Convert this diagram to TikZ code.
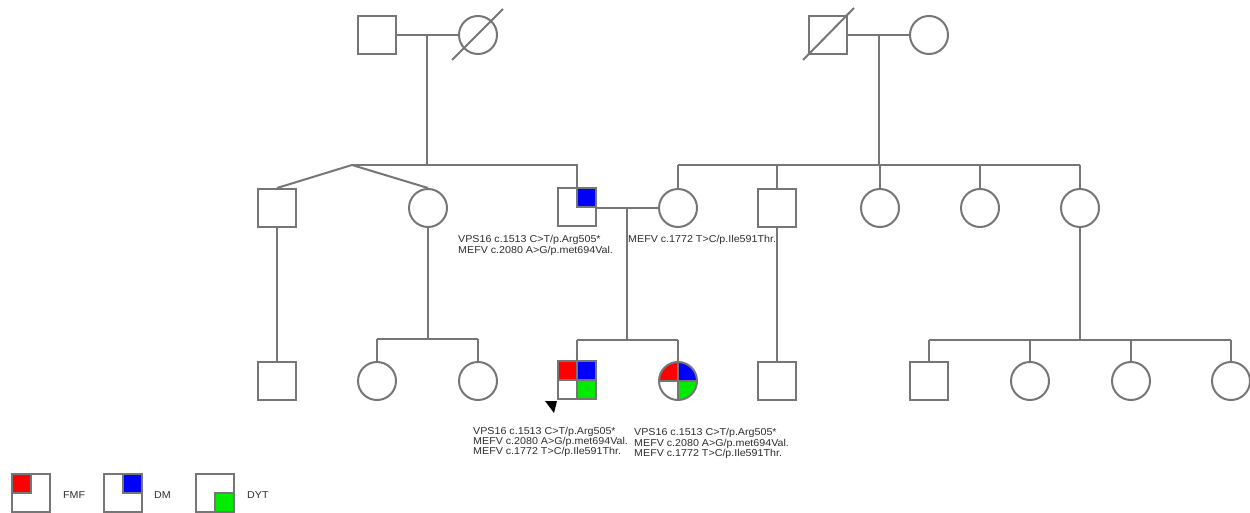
\documentclass[tikz,border=0pt]{standalone}
\usepackage{fontspec}
\setmainfont{Liberation Sans}[FakeStretch=1.07]
\usetikzlibrary{calc}
\definecolor{pedgray}{RGB}{118,118,118}
\definecolor{txtgray}{RGB}{45,45,45}
\definecolor{fmfred}{RGB}{255,0,0}
\definecolor{dmblue}{RGB}{0,0,255}
\definecolor{dytgreen}{RGB}{0,235,0}
\begin{document}
\begin{tikzpicture}[x=1pt,y=1pt,
  male/.style={draw=pedgray, line width=2pt, rectangle, minimum size=38pt, inner sep=0pt},
  female/.style={draw=pedgray, line width=2pt, circle, minimum size=38pt, inner sep=0pt},
  link/.style={draw=pedgray, line width=2pt},
  slash/.style={draw=pedgray, line width=2pt},
  lbl/.style={text=txtgray, align=left, inner sep=0pt, anchor=north west},
  legtxt/.style={text=txtgray, inner sep=0pt, anchor=base west, font=\fontsize{10}{11}\selectfont},
  qfmf/.style={fill=fmfred, draw=pedgray, line width=2pt},
  qdm/.style={fill=dmblue, draw=pedgray, line width=2pt},
  qdyt/.style={fill=dytgreen, draw=pedgray, line width=2pt},
  pTL/.style={path picture={\path[qfmf] (path picture bounding box.center) rectangle (path picture bounding box.north west);}},
  pTR/.style={path picture={\path[qdm] (path picture bounding box.center) rectangle (path picture bounding box.north east);}},
  pBR/.style={path picture={\path[qdyt] (path picture bounding box.center) rectangle (path picture bounding box.south east);}},
  pall/.style={path picture={
    \fill[fmfred] (path picture bounding box.center) rectangle (path picture bounding box.north west);
    \fill[dmblue] (path picture bounding box.center) rectangle (path picture bounding box.north east);
    \fill[dytgreen] (path picture bounding box.center) rectangle (path picture bounding box.south east);
    \draw[pedgray, line width=2pt] (path picture bounding box.north) -- (path picture bounding box.south)
      (path picture bounding box.west) -- (path picture bounding box.east);}}
]
\useasboundingbox (0,0) rectangle (1250,-513);

% Generation I
\node[male]   (I1) at (377,-35) {};
\node[female] (I2) at (478,-35) {};
\node[male]   (I3) at (828,-35) {};
\node[female] (I4) at (929,-35) {};
\draw[slash] ($(I2)+(-26,-25)$) -- ($(I2)+(25,26)$);
\draw[slash] ($(I3)+(-25,-25)$) -- ($(I3)+(26,27)$);

% Generation II
\node[male]       (II1) at (277,-208) {};
\node[female]     (II2) at (428,-208) {};
\node[male, pTR]  (II3) at (577,-207) {};
\node[female]     (II4) at (678,-208) {};
\node[male]       (II5) at (777,-208) {};
\node[female]     (II6) at (880,-208) {};
\node[female]     (II7) at (980,-208) {};
\node[female]     (II8) at (1080,-208) {};

% Generation III
\node[male]         (III1) at (277,-381) {};
\node[female]       (III2) at (377,-381) {};
\node[female]       (III3) at (478,-381) {};
\node[male, pall]   (III4) at (577,-380) {};
\node[female, pall] (III5) at (678,-381) {};
\node[male]         (III6) at (777,-381) {};
\node[male]         (III7) at (929,-381) {};
\node[female]       (III8) at (1030,-381) {};
\node[female]       (III9) at (1131,-381) {};
\node[female]       (III10) at (1231,-381) {};

% helper coordinates
\coordinate (m1) at (427,-35);
\coordinate (s1) at (427,-165);
\coordinate (tw) at (352,-165);
\coordinate (m2) at (879,-35);
\coordinate (s2) at (879,-165);
\coordinate (m3) at (627,-208);
\coordinate (s3) at (627,-340);
\coordinate (d2) at (428,-339);
\coordinate (d8) at (1080,-340);

% Gen I couples
\draw[link] (I1.east) -- (I2.west);
\draw[link] (m1) -- (s1);
\draw[link] (I3.east) -- (I4.west);
\draw[link] (m2) -- (s2);

% left sibship (with twins)
\draw[link] (tw) -- (tw -| II3) -- (II3.north);
\draw[link] (tw) -- (II1.north);
\draw[link] (tw) -- (II2.north);

% right sibship
\draw[link] (s2 -| II4) -- (s2 -| II8);
\foreach \n in {II4,II5,II6,II7,II8} \draw[link] (s2 -| \n) -- (\n.north);

% parents of proband
\draw[link] (II3.east |- II4.west) -- (II4.west);
\draw[link] (m3) -- (s3);
\draw[link] (s3 -| III4) -- (s3 -| III5);
\draw[link] (s3 -| III4) -- (III4.north);
\draw[link] (s3 -| III5) -- (III5.north);

% other descents
\draw[link] (II1.south) -- (III1.north);
\draw[link] (II2.south) -- (d2);
\draw[link] (d2 -| III2) -- (d2 -| III3);
\draw[link] (d2 -| III2) -- (III2.north);
\draw[link] (d2 -| III3) -- (III3.north);
\draw[link] (II5.south) -- (III6.north);
\draw[link] (II8.south) -- (d8);
\draw[link] (d8 -| III7) -- (d8 -| III10);
\foreach \n in {III7,III8,III9,III10} \draw[link] (d8 -| \n) -- (\n.north);

% proband arrow
\fill[black] ($(III4.south west)+(-12,-1)$) -- ($(III4.south west)+(0,-1)$) -- ($(III4.south west)+(-3,-13)$) -- cycle;

% labels
\node[lbl, font=\fontsize{10}{11}\selectfont] (T1) at (458,-235) {VPS16 c.1513 C>T/p.Arg505*\\MEFV c.2080 A>G/p.met694Val.};
\node[lbl, font=\fontsize{10}{11}\selectfont] (T2) at (628,-235) {MEFV c.1772 T>C/p.Ile591Thr.};
\node[lbl, font=\fontsize{10}{10}\selectfont] (T3) at (473,-427.3) {VPS16 c.1513 C>T/p.Arg505*\\MEFV c.2080 A>G/p.met694Val.\\MEFV c.1772 T>C/p.Ile591Thr.};
\node[lbl, font=\fontsize{10}{10.5}\selectfont] (T4) at (634,-428.5) {VPS16 c.1513 C>T/p.Arg505*\\MEFV c.2080 A>G/p.met694Val.\\MEFV c.1772 T>C/p.Ile591Thr.};

% legend
\node[male, pTL] (L1) at (31,-492.5) {};
\node[male, pTR] (L2) at (122.5,-492.5) {};
\node[male, pBR] (L3) at (215,-492.5) {};
\node[legtxt] (LT1) at (63,-498) {FMF};
\node[legtxt] (LT2) at (154,-498) {DM};
\node[legtxt] (LT3) at (247,-498) {DYT};
\end{tikzpicture}
\end{document}
